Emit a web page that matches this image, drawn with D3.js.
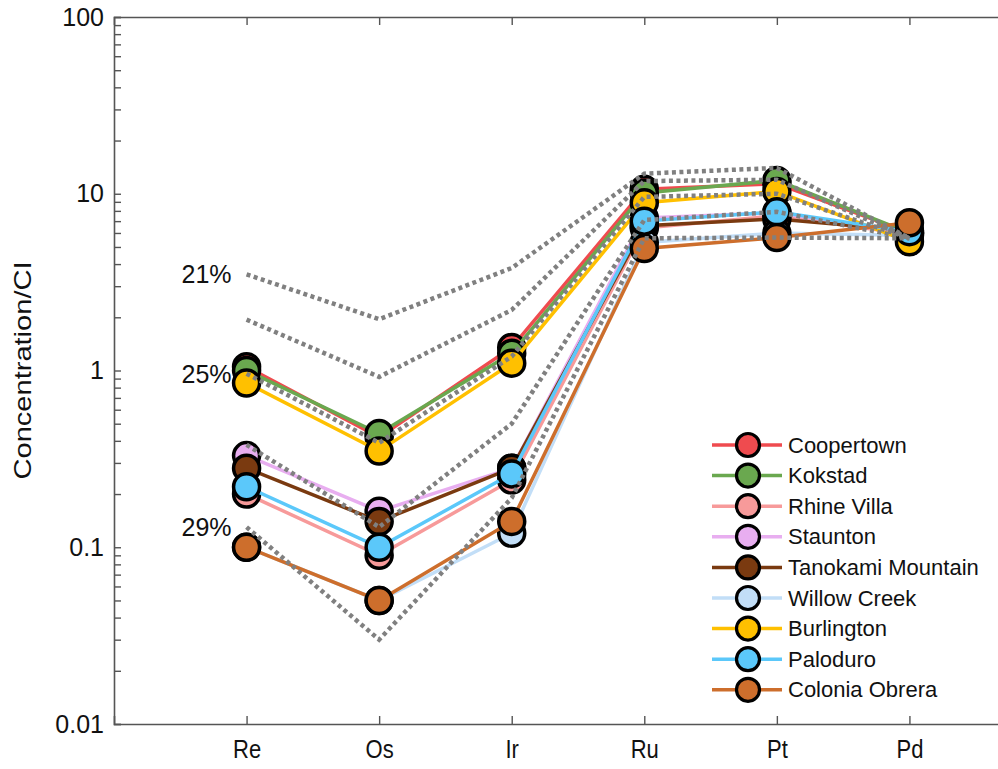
<!DOCTYPE html>
<html>
<head>
<meta charset="utf-8">
<script src="https://cdn.jsdelivr.net/npm/d3@7/dist/d3.min.js"></script>
<style>
  html, body { margin: 0; padding: 0; background: #fff; }
  svg { display: block; }
  text { font-family: "Liberation Sans", Arial, sans-serif; fill: #111; }
</style>
</head>
<body>
<svg id="chart" width="998" height="769"></svg>
<script>
// ---------------- data ----------------
const categories = ["Re", "Os", "Ir", "Ru", "Pt", "Pd"];
const seriesNames = ["Coopertown", "Kokstad", "Rhine Villa", "Staunton", "Tanokami Mountain",
                     "Willow Creek", "Burlington", "Paloduro", "Colonia Obrera"];
const seriesColors = ["#EF4B4F", "#6AA84F", "#F79A9A", "#E8AEF0", "#7A3A10",
                      "#C2DEF7", "#FFC000", "#5BC8FA", "#CD6E2C"];
const coopertown   = [1.05, 0.42, 1.35, 10.6, 11.4, 6.0];
const kokstad      = [1.00, 0.44, 1.25, 10.1, 11.9, 6.0];
const rhineVilla   = [0.20, 0.09, 0.24, 6.4, 7.5, 5.9];
const staunton     = [0.33, 0.16, 0.28, 7.3, 7.8, 6.0];
const tanokami     = [0.28, 0.14, 0.28, 6.6, 7.2, 6.2];
const willowCreek  = [0.10, 0.05, 0.12, 5.3, 6.0, 5.8];
const burlington   = [0.85, 0.35, 1.10, 8.9, 10.3, 5.35];
const paloduro     = [0.22, 0.10, 0.26, 7.0, 7.9, 6.1];
const coloniaObrera= [0.10, 0.05, 0.14, 4.9, 5.65, 6.85];
const seriesValues = [coopertown, kokstad, rhineVilla, staunton, tanokami,
                      willowCreek, burlington, paloduro, coloniaObrera];

// dotted model curves (partial melting %)
const modelLabels = ["21%", "", "25%", "", "29%"];
const model1 = [3.5, 1.95, 3.8, 13.0, 14.0, 5.6];
const model2 = [1.94, 0.92, 2.2, 11.8, 12.0, 5.6];
const model3 = [0.96, 0.39, 1.2, 9.6, 10.0, 5.6];
const model4 = [0.38, 0.13, 0.5, 7.1, 7.9, 5.6];
const model5 = [0.13, 0.03, 0.19, 5.6, 5.65, 5.6];
const models = [model1, model2, model3, model4, model5];

const yTickLabels = ["0.01", "0.1", "1", "10", "100"];
const yTitle = "Concentration/CI";

// ---------------- layout ----------------
const svg = d3.select("#chart");
const x = d3.scaleLinear().domain([0, 7]).range([114, 1042]);
const y = d3.scaleLog().domain([0.01, 100]).range([724, 17]);
const axisColor = "#555";

// axes
const majors = yTickLabels.map(Number);
const allY = y.ticks();
const yAxis = d3.axisLeft(y).tickValues(allY).tickSize(-7).tickPadding(10)
  .tickFormat(d => { const i = majors.findIndex(m => Math.abs(m - d) / m < 1e-9); return i >= 0 ? yTickLabels[i] : ""; });
const gy = svg.append("g").attr("transform", `translate(${x(0)},0)`).call(yAxis);

const xAxis = d3.axisBottom(x).tickValues(d3.range(1, categories.length + 1))
  .tickSize(-8).tickPadding(16).tickFormat(d => categories[d - 1]);
const gx = svg.append("g").attr("transform", `translate(0,${y(0.01)})`).call(xAxis);

const xTop = d3.axisTop(x).tickValues(d3.range(1, categories.length + 1)).tickSize(-8).tickFormat("");
const gt = svg.append("g").attr("transform", `translate(0,${y(100)})`).call(xTop);

const xRight = d3.axisRight(y).tickValues(allY).tickSize(-7).tickFormat("");
const gr = svg.append("g").attr("transform", `translate(${x(7)},0)`).call(xRight);

[gy, gx, gt, gr].forEach(g => {
  g.selectAll("path.domain").attr("stroke", axisColor).attr("stroke-width", 1.6);
  g.selectAll(".tick line").attr("stroke", axisColor).attr("stroke-width", 1.4);
});
gy.selectAll(".tick text").attr("font-size", 25).attr("fill", "#111")
  .attr("font-family", "Liberation Sans, Arial, sans-serif");
gx.selectAll(".tick text").attr("font-size", 25).attr("fill", "#111")
  .attr("font-family", "Liberation Sans Narrow, Liberation Sans, Arial, sans-serif")
  .attr("transform", "scale(0.9,1)")
  .attr("x", d => x(d) * 0 );
// keep bottom labels centred on their tick despite the horizontal squeeze
gx.selectAll(".tick text").attr("transform", null).attr("textLength", function () {
  return this.getComputedTextLength() * 0.88;
}).attr("lengthAdjust", "spacingAndGlyphs");

svg.append("text")
  .attr("transform", `translate(31,${(y(0.01) + y(100)) / 2}) rotate(-90)`)
  .attr("text-anchor", "middle")
  .attr("font-size", 24)
  .attr("textLength", 218).attr("lengthAdjust", "spacingAndGlyphs")
  .text(yTitle);

// series
const line = d3.line().x((d, i) => x(i + 1)).y(d => y(d));
seriesValues.forEach((vals, s) => {
  const g = svg.append("g");
  g.append("path").attr("d", line(vals)).attr("fill", "none")
    .attr("stroke", seriesColors[s]).attr("stroke-width", 3.5);
  g.selectAll("circle").data(vals).join("circle")
    .attr("cx", (d, i) => x(i + 1)).attr("cy", d => y(d)).attr("r", 13)
    .attr("fill", seriesColors[s]).attr("stroke", "#000").attr("stroke-width", 3.5);
});

// models (dotted) on top
models.forEach((vals, m) => {
  svg.append("path").attr("d", line(vals)).attr("fill", "none")
    .attr("stroke", "#808080").attr("stroke-width", 4.5)
    .attr("stroke-dasharray", "4,3.5");
  if (modelLabels[m]) {
    svg.append("text").attr("x", x(1) - 15).attr("y", y(vals[0]))
      .attr("text-anchor", "end").attr("dominant-baseline", "central")
      .attr("font-size", 25).attr("font-family", "Open Sans, sans-serif")
      .text(modelLabels[m]);
  }
});

// legend
const lg = svg.append("g");
seriesNames.forEach((name, i) => {
  const ly = 445 + i * 30.6;
  lg.append("line").attr("x1", 712).attr("x2", 782).attr("y1", ly).attr("y2", ly)
    .attr("stroke", seriesColors[i]).attr("stroke-width", 3.5);
  lg.append("circle").attr("cx", 748).attr("cy", ly).attr("r", 11.5)
    .attr("fill", seriesColors[i]).attr("stroke", "#000").attr("stroke-width", 3.2);
  lg.append("text").attr("x", 788).attr("y", ly).attr("dominant-baseline", "central")
    .attr("font-size", 22).text(name);
});
</script>
</body>
</html>
